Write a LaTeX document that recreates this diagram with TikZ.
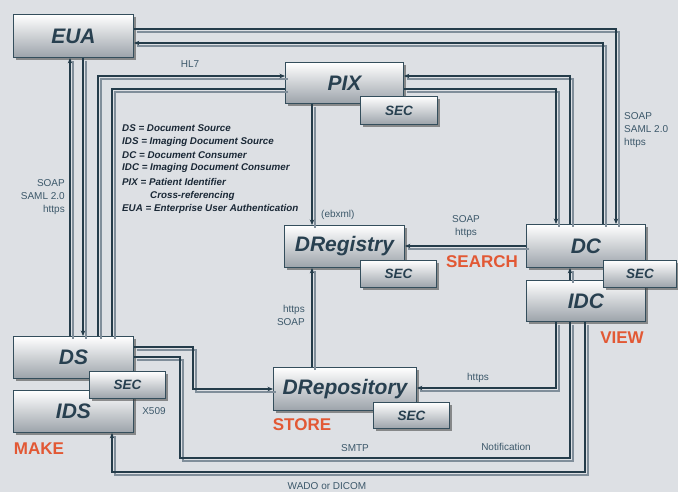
\documentclass[tikz,border=0pt]{standalone}
\usepackage{fontspec}
\setmainfont{Liberation Sans}
\usetikzlibrary{arrows.meta,shadows}

\definecolor{bgcol}{RGB}{221,224,228}
\definecolor{linecol}{RGB}{36,60,74}
\definecolor{shcol}{RGB}{128,142,154}
\definecolor{boxline}{RGB}{52,78,92}
\definecolor{boxtext}{RGB}{40,64,80}
\definecolor{boxmid}{RGB}{226,228,231}
\definecolor{boxbot}{RGB}{156,163,170}
\definecolor{labcol}{RGB}{60,88,106}
\definecolor{redcol}{RGB}{226,88,52}
\definecolor{legcol}{RGB}{26,40,54}

\tikzset{
  unit/.style={draw=boxline, line width=0.9pt, anchor=north west, inner sep=0pt,
    top color=white, middle color=boxmid, bottom color=boxbot,
    drop shadow={shadow xshift=2.5pt, shadow yshift=-2.5pt, opacity=.55, fill=black!75},
    text=boxtext, font=\fontsize{21}{21}\selectfont\bfseries\itshape},
  secbox/.style={unit, font=\fontsize{13.5}{13.5}\selectfont\bfseries\itshape},
  conn/.style={draw=linecol, line width=1.1pt,
    preaction={draw=shcol, line width=1.1pt, arrows=-,
      transform canvas={xshift=3pt, yshift=-3pt}}},
  tip/.style={-{Stealth[length=5.5pt,width=4.5pt]}},
  lab/.style={text=labcol, font=\fontsize{10}{13}\selectfont, inner sep=0pt},
  act/.style={text=redcol, font=\fontsize{17}{17}\selectfont\bfseries, inner sep=0pt},
  legend/.style={text=legcol, font=\fontsize{9.8}{11}\selectfont\bfseries\itshape,
    inner sep=0pt, anchor=west}
}

\begin{document}
\begin{tikzpicture}[x=1pt,y=-1pt]
  % canvas
  \fill[bgcol] (0,0) rectangle (678,492);
  \useasboundingbox (0,0) rectangle (678,492);

  % actors and repositories
  \node[unit, minimum width=120, minimum height=43] (EUA)  at (13,14)  {EUA};
  \node[unit, minimum width=118, minimum height=41] (PIX)  at (285,62) {PIX};
  \node[unit, minimum width=120, minimum height=42] (DReg) at (284,225) {DRegistry};
  \node[unit, minimum width=119, minimum height=43] (DC)   at (526,224) {DC};
  \node[unit, minimum width=119, minimum height=41] (IDC)  at (526,280) {IDC};
  \node[unit, minimum width=120, minimum height=42] (DS)   at (13,336) {DS};
  \node[unit, minimum width=120, minimum height=42] (IDS)  at (13,390) {IDS};
  \node[unit, minimum width=143, minimum height=43] (DRep) at (273,367) {DRepository};

  % connectors
  \draw[conn,tip] (EUA.east |- 0,29) -| (DC.north -| 616,0);
  \draw[conn,tip] (DC.north -| 603,0) |- (EUA.east |- 0,43);
  \draw[conn,tip] (DS.north -| 70,0) -- (EUA.south -| 70,0);
  \draw[conn,tip] (EUA.south -| 83,0) -- (DS.north -| 83,0);
  \draw[conn,tip] (DS.north -| 98,0) |- (PIX.west |- 0,76);
  \draw[conn] (DS.north -| 112,0) |- (PIX.west |- 0,89);
  \draw[conn,tip] (DC.north -| 570,0) |- (PIX.east |- 0,76);
  \draw[conn,tip] (PIX.east |- 0,89) -| (DC.north -| 556,0);
  \draw[conn,tip] (PIX.south -| 312,0) -- (DReg.north -| 312,0);
  \draw[conn,tip] (DC.west |- 0,246) -- (DReg.east |- 0,246);
  \draw[conn,tip] (DRep.north -| 312,0) -- (DReg.south -| 312,0);
  \draw[conn,tip] (DS.east |- 0,347) -| (193,389) -- (DRep.west |- 0,389);
  \draw[conn] (DS.east |- 0,357) -| (180,458) -| (IDC.south -| 570,0);
  \draw[conn,tip] (IDC.south -| 585,0) |- (112,472) -- (IDS.south -| 112,0);
  \draw[conn,tip] (IDC.south -| 556,0) |- (DRep.east |- 0,388);
  \draw[conn,tip] (IDC.north -| 570,0) -- (DC.south -| 570,0);

  % security modules
  \node[secbox, minimum width=77, minimum height=28] (PIXsec)  at (360,96)  {SEC};
  \node[secbox, minimum width=76, minimum height=27] (DRegsec) at (360,260) {SEC};
  \node[secbox, minimum width=73, minimum height=27] (DCsec)   at (603,260) {SEC};
  \node[secbox, minimum width=76, minimum height=27] (DSsec)   at (89,371)  {SEC};
  \node[secbox, minimum width=76, minimum height=26] (DRepsec) at (373,402) {SEC};

  % protocol labels
  \node[lab] (hl7) at (190,64) {HL7};
  \node[lab, align=right, anchor=east] (euaL) at (65,197) {SOAP\\SAML 2.0\\https};
  \node[lab, align=left, anchor=west] (euaR) at (624,130) {SOAP\\SAML 2.0\\https};
  \node[lab, anchor=west] (ebxml) at (321,215) {(ebxml)};
  \node[lab, align=center] (search) at (466,227) {SOAP\\https};
  \node[lab, align=right, anchor=east] (store) at (305,315) {https\\SOAP};
  \node[lab] (viewhttps) at (478,378) {https};
  \node[lab] (x509) at (154,411) {X509};
  \node[lab] (smtp) at (355,448) {SMTP};
  \node[lab] (notif) at (506,447) {Notification};
  \node[lab] (wado) at (327,486) {WADO or DICOM};

  % activity labels
  \node[act] (searchA) at (482,262) {SEARCH};
  \node[act] (storeA) at (302,425) {STORE};
  \node[act] (viewA) at (622,338) {VIEW};
  \node[act] (makeA) at (39,449) {MAKE};

  % abbreviations
  \node[legend] (l1) at (122,128) {DS = Document Source};
  \node[legend] (l2) at (122,142) {IDS = Imaging Document Source};
  \node[legend] (l3) at (122,155) {DC = Document Consumer};
  \node[legend] (l4) at (122,168) {IDC = Imaging Document Consumer};
  \node[legend] (l5) at (122,182) {PIX = Patient Identifier};
  \node[legend] (l6) at (150,196) {Cross-referencing};
  \node[legend] (l7) at (122,209) {EUA = Enterprise User Authentication};
\end{tikzpicture}
\end{document}
